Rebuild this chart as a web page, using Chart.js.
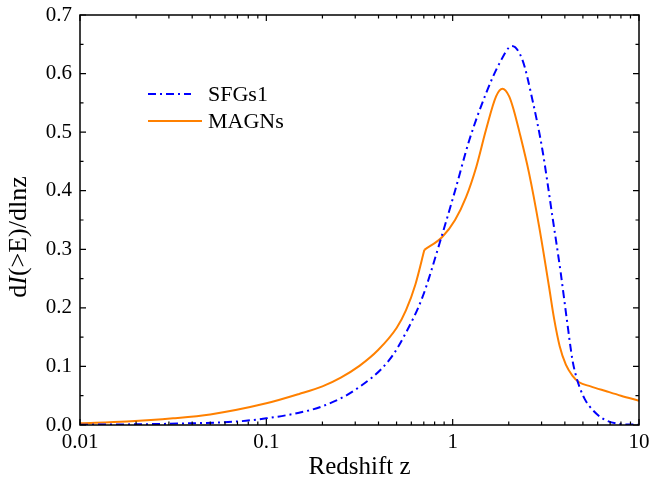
<!DOCTYPE html>
<html>
<head>
<meta charset="utf-8">
<script src="https://cdn.jsdelivr.net/npm/chart.js@4/dist/chart.umd.min.js"></script>
<style>
  body { margin: 0; background: #fff; }
  #wrap { width: 649px; height: 487px; }
</style>
</head>
<body>
<div id="wrap"><canvas id="zChart" width="649" height="487"></canvas></div>
<script>
// values
var sfgZ = [0.01, 0.02, 0.04, 0.07, 0.1, 0.15, 0.2, 0.3, 0.457, 0.56, 0.69, 0.85, 1.03, 1.23, 1.51, 1.78, 2.08, 2.37, 2.68, 3.03, 3.43, 3.8, 4.1, 4.4, 4.6, 4.86, 5.1, 5.39, 6.35, 7.8, 10];
var sfgY = [0.0005, 0.0012, 0.003, 0.006, 0.0114, 0.021, 0.032, 0.06, 0.111, 0.157, 0.219, 0.31, 0.40, 0.487, 0.566, 0.617, 0.647, 0.623, 0.555, 0.47, 0.356, 0.26, 0.18, 0.11, 0.083, 0.06, 0.045, 0.033, 0.0114, 0.002, 0.0005];

// MAGNs has a sharp corner at z ~ 0.7, kept as two pieces
var magnLowZ = [0.01, 0.0178, 0.0316, 0.05, 0.1, 0.15, 0.2, 0.251, 0.316, 0.398, 0.501, 0.562, 0.631, 0.705];
var magnLowY = [0.003, 0.006, 0.0114, 0.018, 0.037, 0.053, 0.066, 0.081, 0.101, 0.128, 0.166, 0.196, 0.24, 0.299];
var magnHighZ = [0.705, 0.879, 1.03, 1.18, 1.34, 1.51, 1.71, 1.85, 2.01, 2.13, 2.27, 2.57, 2.91, 3.29, 3.5, 3.75, 4.05, 4.4, 4.77, 5.5, 6.62, 8, 10];
var magnHighY = [0.299, 0.321, 0.350, 0.389, 0.441, 0.504, 0.561, 0.574, 0.561, 0.537, 0.503, 0.430, 0.339, 0.236, 0.182, 0.135, 0.103, 0.084, 0.073, 0.066, 0.058, 0.05, 0.0415];

var seriesNames = ["SFGs1", "MAGNs"];
var xLabelDecades = [0.01, 0.1, 1, 10];
var yTicks = [0, 0.1, 0.2, 0.3, 0.4, 0.5, 0.6, 0.7];

function pairs(xs, ys) {
    return xs.map(function (x, i) { return { x: x, y: ys[i] }; });
}

var serif = "'Liberation Serif', 'Times New Roman', serif";
var blue = "#0000ff", orange = "#ff8000";

// inward ticks on all four sides plus the box
var framePlugin = {
    id: "frame",
    afterDatasetsDraw: function (chart) {
        var ctx = chart.ctx, a = chart.chartArea;
        var xs = chart.scales.x, ys = chart.scales.y;
        ctx.save();
        ctx.strokeStyle = "#000";
        ctx.lineWidth = 1.5;
        ctx.strokeRect(a.left, a.top, a.right - a.left, a.bottom - a.top);
        ctx.lineWidth = 1.2;
        ctx.beginPath();
        [0.01, 0.1, 1].forEach(function (d) {
            for (var m = 1; m <= 10; m++) {
                var v = d * m;
                if (v > 10.0001) continue;
                var px = xs.getPixelForValue(v);
                var len = (m === 1 || m === 10) ? 6 : 3.5;
                ctx.moveTo(px, a.bottom); ctx.lineTo(px, a.bottom - len);
                ctx.moveTo(px, a.top); ctx.lineTo(px, a.top + len);
            }
        });
        for (var k = 0; k <= 14; k++) {
            var py = ys.getPixelForValue(k * 0.05);
            var l = (k % 2 === 0) ? 6 : 3.5;
            ctx.moveTo(a.left, py); ctx.lineTo(a.left + l, py);
            ctx.moveTo(a.right, py); ctx.lineTo(a.right - l, py);
        }
        ctx.stroke();
        ctx.restore();
    }
};

// legend inside the plot, top left (one entry per label)
var legendPlugin = {
    id: "innerLegend",
    afterDatasetsDraw: function (chart) {
        var ctx = chart.ctx;
        var seen = {};
        var row = 0;
        ctx.save();
        ctx.font = "22px " + serif;
        ctx.textBaseline = "middle";
        ctx.fillStyle = "#000";
        chart.data.datasets.forEach(function (ds) {
            if (seen[ds.label]) return;
            seen[ds.label] = true;
            var y = 94 + row * 27;
            ctx.strokeStyle = ds.borderColor;
            ctx.lineWidth = ds.borderWidth;
            ctx.setLineDash(ds.borderDash || []);
            ctx.beginPath();
            ctx.moveTo(148, y);
            ctx.lineTo(row === 0 ? 191 : 202, y);
            ctx.stroke();
            ctx.setLineDash([]);
            ctx.fillText(ds.label, 208, y + 1);
            row++;
        });
        ctx.restore();
    }
};

// y title with italic I
var yTitlePlugin = {
    id: "yTitle",
    afterDraw: function (chart) {
        var ctx = chart.ctx;
        var parts = [["d", "normal"], ["I", "italic"], ["(>E)/dlnz", "normal"]];
        ctx.save();
        ctx.translate(19, 237);
        ctx.rotate(-Math.PI / 2);
        ctx.textBaseline = "middle";
        ctx.fillStyle = "#000";
        var total = 0;
        parts.forEach(function (p) {
            ctx.font = p[1] + " 26px " + serif;
            total += ctx.measureText(p[0]).width;
        });
        var x = -total / 2;
        parts.forEach(function (p) {
            ctx.font = p[1] + " 26px " + serif;
            ctx.fillText(p[0], x, 0);
            x += ctx.measureText(p[0]).width;
        });
        ctx.restore();
    }
};

function lineSet(label, data, color, dash) {
    return {
        label: label,
        data: data,
        borderColor: color,
        borderWidth: 2,
        borderDash: dash,
        pointRadius: 0,
        cubicInterpolationMode: "monotone",
        fill: false
    };
}

new Chart(document.getElementById("zChart").getContext("2d"), {
    type: "line",
    data: {
        datasets: [
            lineSet(seriesNames[0], pairs(sfgZ, sfgY), blue, [8, 4, 2, 4]),
            lineSet(seriesNames[1], pairs(magnLowZ, magnLowY), orange, []),
            lineSet(seriesNames[1], pairs(magnHighZ, magnHighY), orange, [])
        ]
    },
    options: {
        responsive: false,
        animation: false,
        layout: { padding: { top: 15, right: 10, left: 0, bottom: 0 } },
        plugins: { legend: { display: false }, tooltip: { enabled: false } },
        scales: {
            x: {
                type: "logarithmic",
                min: 0.01,
                max: 10,
                grid: { display: false, drawTicks: false },
                border: { display: false },
                afterFit: function (s) { s.height = 62; s.paddingLeft = 0; s.paddingRight = 0; },
                afterBuildTicks: function (s) {
                    s.ticks = xLabelDecades.map(function (v) { return { value: v }; });
                },
                ticks: {
                    autoSkip: false,
                    maxRotation: 0,
                    padding: 5,
                    color: "#000",
                    font: { family: serif, size: 21 },
                    callback: function (v) { return String(v); }
                },
                title: {
                    display: true,
                    text: "Redshift z",
                    color: "#000",
                    font: { family: serif, size: 25 },
                    padding: { top: 0, bottom: 5 }
                }
            },
            y: {
                min: 0,
                max: 0.7,
                grid: { display: false, drawTicks: false },
                border: { display: false },
                afterFit: function (s) { s.width = 80; s.paddingTop = 0; s.paddingBottom = 0; },
                afterBuildTicks: function (s) {
                    s.ticks = yTicks.map(function (v) { return { value: v }; });
                },
                ticks: {
                    padding: 8,
                    color: "#000",
                    font: { family: serif, size: 21 },
                    callback: function (v) { return v.toFixed(1); }
                }
            }
        }
    },
    plugins: [framePlugin, legendPlugin, yTitlePlugin]
});
</script>
</body>
</html>
